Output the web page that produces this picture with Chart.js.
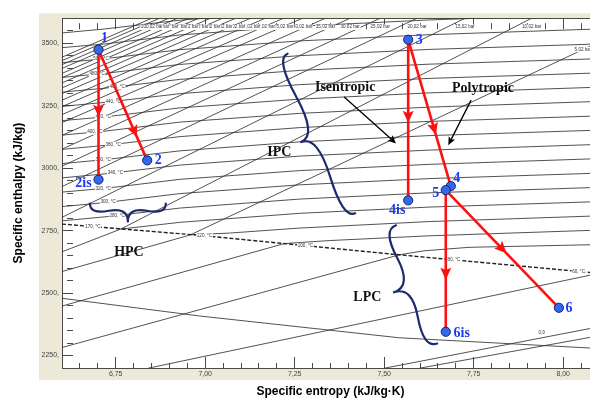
<!DOCTYPE html>
<html>
<head>
<meta charset="utf-8">
<style>
  html, body { margin: 0; padding: 0; background: #fff; overflow: hidden; }
  canvas { display: block; }
</style>
<script src="https://cdn.jsdelivr.net/npm/chart.js@4.4.1/dist/chart.umd.min.js"></script>
</head>
<body>
<canvas id="hs" width="612" height="401"></canvas>
<script>
// ---- state points of the three-stage turbine expansion (s in kJ/kg·K, h in kJ/kg)
const stateNames = ['1', '2', '2is', '3', '4', '5', '4is', '6is', '6'];
const stateS = [6.702, 6.838, 6.702, 7.567, 7.686, 7.672, 7.567, 7.672, 7.988];
const stateH = [3474, 3031, 2954, 3514, 2928, 2912, 2871, 2345, 2441];

// expansion paths (isentropic and polytropic) between the states
const processSteps = [['1', '2is'], ['1', '2'], ['3', '4is'], ['3', '4'], ['5', '6is'], ['5', '6']];

// ---- isobars
const isobarNames = ['100,02 bar', '95,02 bar', '90,02 bar', '85,02 bar', '80,02 bar', '75,02 bar',
  '70,02 bar', '65,02 bar', '60,02 bar', '55,02 bar', '50,02 bar', '45,02 bar', '40,02 bar',
  '35,02 bar', '30,02 bar', '25,02 bar', '20,02 bar', '15,02 bar', '10,02 bar', '5,02 bar'];
const isobarS = [[6.851, 6.6], [6.873, 6.6], [6.898, 6.6], [6.923, 6.6], [6.954, 6.6], [6.982, 6.6],
  [7.015, 6.6], [7.049, 6.6], [7.085, 6.6], [7.127, 6.6], [7.168, 6.6], [7.219, 6.6], [7.272, 6.6],
  [7.336, 6.6], [7.405, 6.6], [7.489, 6.6], [7.592, 6.6], [7.726, 6.6], [7.912, 6.764], [8.1, 6.959]];
const isobarH = [[3600, 3444], [3600, 3430], [3600, 3414], [3600, 3399], [3600, 3379], [3600, 3362],
  [3600, 3341], [3600, 3321], [3600, 3298], [3600, 3272], [3600, 3246], [3600, 3214], [3600, 3182],
  [3600, 3131], [3600, 3076], [3600, 3008], [3600, 2926], [3600, 2803], [3600, 2756], [3505, 2733]];

// ---- isotherms (the low ones continue into the wet region)
const isothermNames = ['540, °C', '520, °C', '500, °C', '480, °C', '460, °C', '440, °C', '420, °C',
  '400, °C', '380, °C', '360, °C', '340, °C', '320, °C', '300, °C', '280, °C',
  '170, °C', '120, °C', '100, °C', '80, °C', '60, °C'];
const isothermS = [
  [6.6, 6.72, 6.929, 7.263, 7.625, 8.1], [6.6, 6.72, 6.929, 7.263, 7.625, 8.1],
  [6.6, 6.72, 6.929, 7.263, 7.625, 8.1], [6.6, 6.72, 6.929, 7.263, 7.625, 8.1],
  [6.6, 6.72, 6.929, 7.263, 7.625, 8.1], [6.6, 6.72, 6.929, 7.263, 7.625, 8.1],
  [6.6, 6.72, 6.929, 7.263, 7.625, 8.1], [6.6, 6.72, 6.929, 7.263, 7.625, 8.1],
  [6.6, 6.72, 6.929, 7.263, 7.625, 8.1], [6.6, 6.72, 6.929, 7.263, 7.625, 8.1],
  [6.6, 6.72, 6.929, 7.263, 7.625, 8.1], [6.6, 6.72, 6.929, 7.263, 7.625, 8.1],
  [6.6, 6.72, 6.929, 7.263, 7.625, 8.1], [6.6, 6.72, 6.929, 7.263, 7.625, 8.1],
  [8.1, 7.625, 7.263, 6.929, 6.764, 6.6],
  [8.1, 7.625, 7.263, 7.068, 6.959, 6.6],
  [8.1, 7.625, 7.347, 7.221, 6.6],
  [8.1, 7.737, 7.611, 7.542, 6.6],
  [8.1, 6.84]
];
const isothermH = [
  [3541, 3557, 3592, 3628, 3652, 3675], [3482, 3497, 3533, 3568, 3593, 3616],
  [3422, 3438, 3474, 3509, 3534, 3557], [3363, 3379, 3415, 3450, 3475, 3497],
  [3304, 3320, 3355, 3391, 3416, 3438], [3247, 3263, 3298, 3334, 3359, 3381],
  [3190, 3205, 3241, 3276, 3301, 3324], [3132, 3148, 3184, 3219, 3244, 3267],
  [3075, 3091, 3126, 3162, 3187, 3209], [3018, 3034, 3069, 3105, 3130, 3152],
  [2961, 2977, 3012, 3048, 3072, 3095], [2904, 2919, 2955, 2990, 3015, 3038],
  [2846, 2862, 2898, 2933, 2958, 2980], [2789, 2805, 2840, 2876, 2901, 2923],
  [2866, 2844, 2819, 2783, 2756, 2665],
  [2809, 2786, 2760, 2740, 2733, 2586],
  [2752, 2729, 2710, 2698, 2448],
  [2694, 2683, 2669, 2653, 2282],
  [2579, 2199]
];

// ---- saturated vapour line
const satS = [6.6, 6.985, 7.542, 8.1];
const satH = [2776, 2731, 2653, 2579];

// ---- further property lines in the wet region
const wetLineNames = ['isochore', '0,9', 'isobar'];
const wetLineS = [[6.6, 6.985, 7.542, 8.1], [7.5, 8.1], [7.598, 8.1]];
const wetLineH = [[2479, 2408, 2321, 2278], [2199, 2365], [2199, 2329]];

// ---- axis ticks
const sTicks = [6.75, 7.0, 7.25, 7.5, 7.75, 8.0];
const sTickLabels = ['6,75', '7,00', '7,25', '7,50', '7,75', '8,00'];
const hTicks = [2250, 2500, 2750, 3000, 3250, 3500];
const hTickLabels = ['2250,', '2500,', '2750,', '3000,', '3250,', '3500,'];

// ---- annotation texts
const noteTexts = ['Isentropic', 'Polytropic', 'IPC', 'HPC', 'LPC'];

// ---- layout of annotations (anchors in s/h units, offsets in px)
const layout = {
  noteAt: [[7.391, 3324], [7.776, 3320], [7.207, 3063], [6.787, 2661], [7.453, 2483]],
  pointers: [{ from: [7.389, 3284], to: [7.533, 3099] }, { from: [7.742, 3270], to: [7.679, 3092] }],
  braces: [
    { a: [6.678, 2858], b: [6.890, 2858], w: 18 },
    { a: [7.230, 3458], b: [7.419, 2819], w: 22 },
    { a: [7.533, 2771], b: [7.648, 2298], w: 24 }
  ],
  stateLabelOffset: { '1': [6, -11], '2': [11, 0], '2is': [-15, 4], '3': [11, 1], '4': [6, -8],
    '5': [-10, 3], '4is': [-11, 10], '6is': [16, 2], '6': [10, 1] },
  processArrowAt: [0.47, 0.74, 0.48, 0.61, 0.59, 0.5],
  isothermTagS: { 2: 6.709, 3: 6.698, 4: 6.754, 5: 6.743, 6: 6.715, 7: 6.692, 8: 6.743,
    9: 6.715, 10: 6.749, 11: 6.715, 12: 6.729, 13: 6.754 },
  satTagS: { 14: 6.686, 15: 6.998, 16: 7.28, 17: 7.695, 18: 8.043 },
  wetTagS: { 1: 7.94 }
};

const RED = '#ff1010';
const GREY = '#333333';
const BLUE_TEXT = '#1b3cf2';
const BRACE = '#1c2a6e';

const pts = (s, h) => s.map((v, i) => ({ x: v, y: h[i] }));
const stateIndex = name => stateNames.indexOf(name);

const datasets = [];
datasets.push({
  label: 'States', kind: 'state', data: pts(stateS, stateH), showLine: false,
  pointRadius: 4.6, pointBackgroundColor: '#3468ec', pointBorderColor: '#16206a', pointBorderWidth: 1, order: 0
});
processSteps.forEach(([a, b]) => {
  const i = stateIndex(a), j = stateIndex(b);
  datasets.push({
    label: a + ' → ' + b, kind: 'process',
    data: [{ x: stateS[i], y: stateH[i] }, { x: stateS[j], y: stateH[j] }],
    showLine: true, borderColor: RED, borderWidth: 2.6, pointRadius: 0, order: 1
  });
});
datasets.push({
  label: 'Saturated vapour', kind: 'sat', data: pts(satS, satH), showLine: true,
  borderColor: '#202020', borderWidth: 1.4, borderDash: [4, 2], pointRadius: 0, order: 2
});
isobarNames.forEach((n, i) => datasets.push({
  label: n, kind: 'isobar', data: pts(isobarS[i], isobarH[i]), showLine: true,
  borderColor: GREY, borderWidth: 0.85, pointRadius: 0, order: 3
}));
isothermNames.forEach((n, i) => datasets.push({
  label: n, kind: 'isotherm', data: pts(isothermS[i], isothermH[i]), showLine: true,
  borderColor: GREY, borderWidth: 0.85, pointRadius: 0, order: 3
}));
wetLineNames.forEach((n, i) => datasets.push({
  label: n, kind: 'wet', data: pts(wetLineS[i], wetLineH[i]), showLine: true,
  borderColor: GREY, borderWidth: 0.85, pointRadius: 0, order: 3
}));

const isMajorS = v => Math.abs(v * 4 - Math.round(v * 4)) < 1e-6;
const isMajorH = v => Math.abs(v / 250 - Math.round(v / 250)) < 1e-6;

function interpH(sArr, hArr, s) {
  for (let i = 0; i < sArr.length - 1; i++) {
    const a = sArr[i], b = sArr[i + 1];
    if (a !== b && (s - a) * (s - b) <= 0) return hArr[i] + (hArr[i + 1] - hArr[i]) * (s - a) / (b - a);
  }
  return null;
}

function toPx(chart, s, h) {
  return { x: chart.scales.x.getPixelForValue(s), y: chart.scales.y.getPixelForValue(h) };
}

function smallTag(ctx, text, x, y) {
  ctx.font = '4.6px "Liberation Sans", Arial, sans-serif';
  const w = ctx.measureText(text).width;
  ctx.fillStyle = '#ffffff';
  ctx.fillRect(x - w / 2 - 0.6, y - 2.7, w + 1.2, 5.4);
  ctx.fillStyle = '#333333';
  ctx.textAlign = 'center';
  ctx.textBaseline = 'middle';
  ctx.fillText(text, x, y);
}

function arrowHead(ctx, x, y, ang, len, half, color, tipAnchored) {
  ctx.save();
  ctx.translate(x, y);
  ctx.rotate(ang);
  ctx.beginPath();
  if (tipAnchored) {
    ctx.moveTo(0, 0); ctx.lineTo(-len, -half); ctx.lineTo(-len * 0.8, 0); ctx.lineTo(-len, half);
  } else {
    ctx.moveTo(len / 2, 0); ctx.lineTo(-len / 2, -half); ctx.lineTo(-len * 0.3, 0); ctx.lineTo(-len / 2, half);
  }
  ctx.closePath();
  ctx.fillStyle = color;
  ctx.fill();
  ctx.restore();
}

function bracePath(x1, y1, x2, y2, w, q) {
  const len = Math.hypot(x1 - x2, y1 - y2);
  const dx = (x1 - x2) / len, dy = (y1 - y2) / len;
  const qx1 = x1 + q * w * dy, qy1 = y1 - q * w * dx;
  const qx2 = (x1 - 0.25 * len * dx) + (1 - q) * w * dy, qy2 = (y1 - 0.25 * len * dy) - (1 - q) * w * dx;
  const tx = (x1 - 0.5 * len * dx) + w * dy, ty = (y1 - 0.5 * len * dy) - w * dx;
  const qx3 = x2 + q * w * dy, qy3 = y2 - q * w * dx;
  const qx4 = (x1 - 0.75 * len * dx) + (1 - q) * w * dy, qy4 = (y1 - 0.75 * len * dy) - (1 - q) * w * dx;
  return new Path2D(`M ${x1} ${y1} Q ${qx1} ${qy1} ${qx2} ${qy2} T ${tx} ${ty} ` +
    `M ${x2} ${y2} Q ${qx3} ${qy3} ${qx4} ${qy4} T ${tx} ${ty}`);
}

// panel background: beige frame round a white plot area
const panelPlugin = {
  id: 'panel',
  beforeDraw(chart) {
    const { ctx, chartArea: a, width, height } = chart;
    ctx.save();
    ctx.fillStyle = '#ffffff';
    ctx.fillRect(0, 0, width, height);
    ctx.fillStyle = '#ece9d8';
    ctx.fillRect(a.left - 23, a.top - 5, width, a.bottom - a.top + 17);
    ctx.fillStyle = '#ffffff';
    ctx.fillRect(a.left, a.top, a.right - a.left, a.bottom - a.top);
    ctx.restore();
  }
};

// small line tags (isobars, isotherms) drawn under the process lines
const tagPlugin = {
  id: 'lineTags',
  afterDatasetDraw(chart, args) {
    const ds = chart.data.datasets[args.index];
    if (ds.kind !== 'sat') return;
    const { ctx, chartArea: a } = chart;
    ctx.save();
    ctx.beginPath();
    ctx.rect(a.left, a.top, a.right - a.left, a.bottom - a.top);
    ctx.clip();
    // isobar tags at the upper end of each line
    for (let i = isobarNames.length - 1; i >= 0; i--) {
      const p0 = toPx(chart, isobarS[i][0], isobarH[i][0]);
      const p1 = toPx(chart, isobarS[i][1], isobarH[i][1]);
      const x = Math.min(p0.x, a.right - 16);
      const t = (x - p1.x) / (p0.x - p1.x);
      const y = Math.max(p1.y + t * (p0.y - p1.y), a.top + 9);
      smallTag(ctx, isobarNames[i], x, y);
    }
    // isotherm tags on their own lines
    Object.entries(layout.isothermTagS).forEach(([k, s]) => {
      const h = interpH(isothermS[k], isothermH[k], s);
      const p = toPx(chart, s, h);
      smallTag(ctx, isothermNames[k], p.x, p.y);
    });
    // isotherm tags where they meet the saturation line
    Object.entries(layout.satTagS).forEach(([k, s]) => {
      const h = interpH(satS, satH, s);
      const p = toPx(chart, s, h);
      smallTag(ctx, isothermNames[k], p.x, p.y);
    });
    Object.entries(layout.wetTagS).forEach(([k, s]) => {
      const h = interpH(wetLineS[k], wetLineH[k], s);
      const p = toPx(chart, s, h);
      smallTag(ctx, wetLineNames[k], p.x, p.y - 5);
    });
    ctx.restore();
  }
};

// arrowheads, braces, annotation texts and state labels
const notesPlugin = {
  id: 'notes',
  afterDatasetsDraw(chart) {
    const { ctx } = chart;
    ctx.save();
    // direction arrows on the expansion lines
    processSteps.forEach(([a, b], k) => {
      const i = stateIndex(a), j = stateIndex(b);
      const A = toPx(chart, stateS[i], stateH[i]);
      const B = toPx(chart, stateS[j], stateH[j]);
      const f = layout.processArrowAt[k];
      arrowHead(ctx, A.x + (B.x - A.x) * f, A.y + (B.y - A.y) * f,
        Math.atan2(B.y - A.y, B.x - A.x), 12, 5.5, RED, false);
    });
    // braces
    ctx.strokeStyle = BRACE;
    ctx.lineWidth = 2.2;
    ctx.lineCap = 'round';
    layout.braces.forEach(br => {
      const p = toPx(chart, br.a[0], br.a[1]);
      const q = toPx(chart, br.b[0], br.b[1]);
      ctx.stroke(bracePath(p.x, p.y, q.x, q.y, br.w, 0.6));
    });
    // pointer arrows
    ctx.strokeStyle = '#000';
    ctx.lineWidth = 1.3;
    layout.pointers.forEach(pt => {
      const A = toPx(chart, pt.from[0], pt.from[1]);
      const B = toPx(chart, pt.to[0], pt.to[1]);
      const ang = Math.atan2(B.y - A.y, B.x - A.x);
      ctx.beginPath();
      ctx.moveTo(A.x, A.y);
      ctx.lineTo(B.x - 5 * Math.cos(ang), B.y - 5 * Math.sin(ang));
      ctx.stroke();
      arrowHead(ctx, B.x, B.y, ang, 8, 3.6, '#000', true);
    });
    // annotation texts
    ctx.font = 'bold 14px "Liberation Serif", "Times New Roman", serif';
    ctx.fillStyle = '#111';
    ctx.textAlign = 'center';
    ctx.textBaseline = 'middle';
    noteTexts.forEach((t, i) => {
      const p = toPx(chart, layout.noteAt[i][0], layout.noteAt[i][1]);
      ctx.fillText(t, p.x, p.y);
    });
    ctx.restore();
  },
  afterDraw(chart) {
    const { ctx } = chart;
    ctx.save();
    ctx.font = 'bold 14px "Liberation Serif", "Times New Roman", serif';
    ctx.fillStyle = BLUE_TEXT;
    ctx.textAlign = 'center';
    ctx.textBaseline = 'middle';
    stateNames.forEach((n, i) => {
      const p = toPx(chart, stateS[i], stateH[i]);
      const o = layout.stateLabelOffset[n];
      ctx.fillText(n, p.x + o[0], p.y + o[1]);
    });
    ctx.restore();
  }
};

const tickFont = { family: '"Liberation Sans", Arial, sans-serif', size: 7 };
const titleFont = { family: '"Liberation Sans", Arial, sans-serif', size: 12, weight: 'bold' };

function sGrid() {
  return {
    display: true, drawOnChartArea: false, drawTicks: true, tickLength: -11,
    tickColor: '#4a4a4a', tickWidth: 1,
    tickBorderDash: c => (c.tick && isMajorS(c.tick.value)) ? [] : [6, 40]
  };
}

new Chart(document.getElementById('hs'), {
  type: 'scatter',
  data: { datasets },
  options: {
    responsive: false,
    animation: false,
    devicePixelRatio: 1,
    layout: { padding: { left: 0, right: 12, top: 0, bottom: 0 } },
    plugins: { legend: { display: false }, tooltip: { enabled: false } },
    scales: {
      x: {
        type: 'linear', position: 'bottom', min: 6.6, max: 8.1,
        ticks: {
          stepSize: 0.05, autoSkip: false, maxRotation: 0, padding: 13, font: tickFont, color: '#444',
          callback: v => { const i = sTicks.findIndex(t => Math.abs(t - v) < 1e-6); return i < 0 ? '' : sTickLabels[i]; }
        },
        grid: sGrid(),
        border: { display: true, color: '#4a4a4a', width: 1 },
        title: { display: true, text: 'Specific entropy (kJ/kg·K)', font: titleFont, color: '#000', padding: { top: 0, bottom: 2 } },
        afterFit: s => { s.height = 33; }
      },
      xTop: {
        type: 'linear', position: 'top', min: 6.6, max: 8.1,
        ticks: { display: false, stepSize: 0.05, autoSkip: false },
        grid: sGrid(),
        border: { display: true, color: '#4a4a4a', width: 1 },
        afterFit: s => { s.height = 13; }
      },
      y: {
        type: 'linear', position: 'left', min: 2200, max: 3600,
        ticks: {
          stepSize: 50, autoSkip: false, padding: 14, font: tickFont, color: '#444',
          callback: v => { const i = hTicks.findIndex(t => Math.abs(t - v) < 1e-6); return i < 0 ? '' : hTickLabels[i]; }
        },
        grid: {
          display: true, drawOnChartArea: false, drawTicks: true, tickLength: -11,
          tickColor: '#4a4a4a', tickWidth: 1,
          tickBorderDash: c => (c.tick && isMajorH(c.tick.value)) ? [] : [6, 40]
        },
        border: { display: true, color: '#4a4a4a', width: 1 },
        title: { display: true, text: 'Specific enthalpy (kJ/kg)', font: titleFont, color: '#000', padding: { top: 11, bottom: 0 } },
        afterFit: s => { s.width = 62; }
      }
    }
  },
  plugins: [panelPlugin, tagPlugin, notesPlugin]
});
</script>
</body>
</html>
